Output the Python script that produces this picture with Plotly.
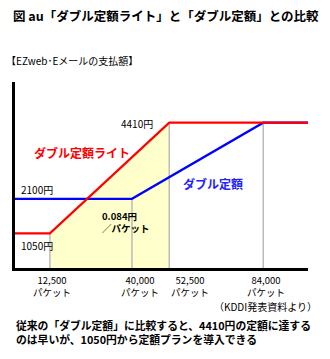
import plotly.graph_objects as go

# ---- data ----
tick_packets = [12500, 40000, 52500, 84000]
tick_labels = ["12,500", "40,000", "52,500", "84,000"]
lite_x = [0, 12500, 52500, 99000]
lite_y = [1050, 1050, 4410, 4410]
double_x = [0, 40000, 84000, 99000]
double_y = [2100, 2100, 4410, 4410]
guide_tops = [1050, 2100, 4410, 4410]
yellow_x = [12500, 12500, 52500, 52500]
yellow_y = [0, 1050, 4410, 0]

FONT = "Noto Sans CJK JP"
L, R, T, B = 15, 308, 82, 268
W, H = 330, 359

def px(x):
    return (x - L) / (R - L)

def py(y):
    return (B - y) / (B - T)

fig = go.Figure()

fig.add_trace(go.Scatter(x=yellow_x, y=yellow_y, fill="toself", mode="none",
                         fillcolor="#FFFFCC", hoverinfo="skip", showlegend=False))

gx, gy = [], []
for xv, top in zip(tick_packets, guide_tops):
    gx += [xv, xv, None]
    gy += [0, top, None]
fig.add_trace(go.Scatter(x=gx, y=gy, mode="lines", line=dict(color="#BBBBBB", width=1.5),
                         hoverinfo="skip", showlegend=False))

fig.add_trace(go.Scatter(x=double_x, y=double_y, mode="lines",
                         line=dict(color="#0000FF", width=2.2), showlegend=False))
fig.add_trace(go.Scatter(x=lite_x, y=lite_y, mode="lines",
                         line=dict(color="#FF0000", width=2.2), showlegend=False))

ann = []
def add(text, x, y, size=10, color="black", xanchor="left", bold=False, align="left"):
    t = f"<b>{text}</b>" if bold else text
    ann.append(dict(text=t, x=px(x), y=py(y), xref="paper", yref="paper",
                    xanchor=xanchor, yanchor="middle", showarrow=False, align=align,
                    font=dict(family=FONT, size=size, color=color)))

add("図 au「ダブル定額ライト」と「ダブル定額」との比較", 166, 15, size=12.5, xanchor="center", bold=True)
add("【EZweb･Eメールの支払額】", 4, 60, size=10)
add("4410円", 155, 123, size=10, xanchor="right")
add("2100円", 19, 189, size=10)
add("1050円", 19, 245, size=10)
add("ダブル定額ライト", 32, 152, size=12, color="#FF0000", bold=True)
add("ダブル定額", 181, 183, size=12, color="#2222FF", bold=True)
add("0.084円<br>／パケット", 100, 222, size=9.5, bold=True)

label_centers = [52, 140, 190, 266]
for lab, cx in zip(tick_labels, label_centers):
    add(f"{lab}<br>パケット", cx, 285.5, size=9.5, xanchor="center", align="center")

add("（KDDI発表資料より）", 212, 306, size=10)
add("従来の「ダブル定額」に比較すると、4410円の定額に達する<br>のは早いが、1050円から定額プランを導入できる",
    14, 332, size=10.8, bold=True)

fig.update_layout(
    width=W, height=H,
    margin=dict(l=L, r=W - R, t=T, b=H - B, pad=0),
    paper_bgcolor="white", plot_bgcolor="white",
    annotations=ann,
    xaxis=dict(range=[800, 99000], showgrid=False, zeroline=False, showticklabels=False,
               ticks="", showline=True, linecolor="black", linewidth=2.6, fixedrange=True),
    yaxis=dict(range=[0, 5645], showgrid=False, zeroline=False, showticklabels=False,
               ticks="", showline=True, linecolor="black", linewidth=2.6, fixedrange=True),
)

fig.write_html("out.html", config={"displayModeBar": False})
